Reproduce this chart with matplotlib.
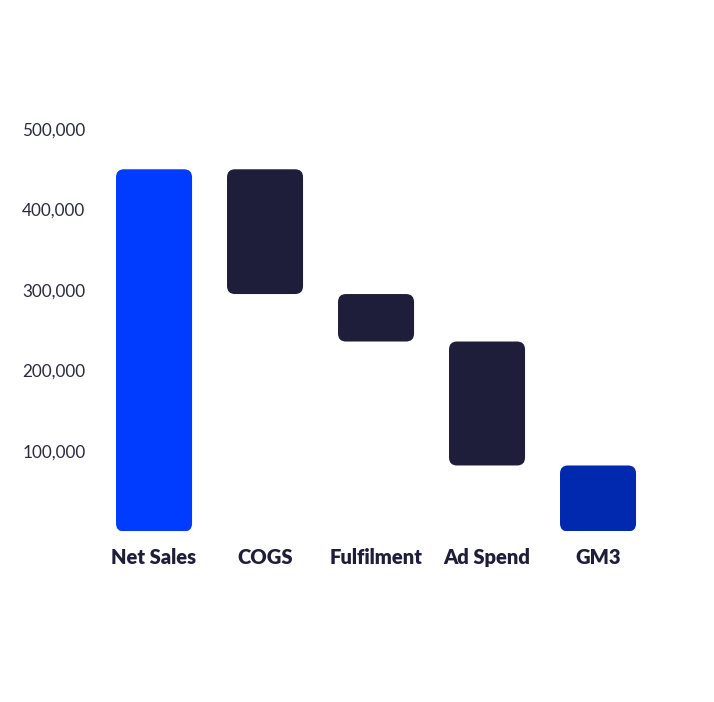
import matplotlib
matplotlib.use("Agg")
import matplotlib.pyplot as plt
from matplotlib.patches import FancyBboxPatch
from matplotlib.ticker import FuncFormatter

OUTPUT_FILE = "out.png"

# waterfall steps (GM3 is the total left over)
categories = ["Net Sales", "COGS", "Fulfilment", "Ad Spend", "GM3"]
changes = [450000, -155000, -59000, -154000, 82000]
kinds = ["start", "cost", "cost", "cost", "total"]
y_ticks = [100000, 200000, 300000, 400000, 500000]

colors = {"start": "#003cff", "cost": "#1e1e3a", "total": "#0029b0"}
text_color = "#2b2b40"


def generate_chart():
    plt.rcParams["font.family"] = ["Lato", "DejaVu Sans"]
    fig = plt.figure(figsize=(7.14, 7.02), dpi=100)
    ax = fig.add_axes([0.138, 0.2429, 0.7773, 0.5733])

    ax.set_xlim(-0.5, len(categories) - 0.5)
    ax.set_ylim(0, 500000)

    # figure out data-per-pixel so the corners come out round
    fig.canvas.draw()
    bbox = ax.get_window_extent()
    x_per_px = (len(categories)) / bbox.width
    y_per_px = 500000 / bbox.height
    radius_px = 8
    width = 0.685

    running = 0
    for i, (cat, ch, kind) in enumerate(zip(categories, changes, kinds)):
        if kind == "start":
            lo, hi = 0, ch
            running = ch
        elif kind == "cost":
            hi = running
            lo = running + ch
            running = lo
        else:
            lo, hi = 0, ch
        patch = FancyBboxPatch(
            (i - width / 2, lo), width, hi - lo,
            boxstyle=f"round,pad=0,rounding_size={radius_px * x_per_px}",
            mutation_aspect=y_per_px / x_per_px,
            facecolor=colors[kind], edgecolor="none",
        )
        ax.add_patch(patch)

    ax.set_xticks(range(len(categories)))
    ax.set_xticklabels(categories, fontsize=14.5, fontweight="heavy", color="#1e1e3a")
    ax.set_yticks(y_ticks)
    ax.yaxis.set_major_formatter(FuncFormatter(lambda v, p: f"{int(v):,}"))
    for lab in ax.get_yticklabels():
        lab.set_horizontalalignment("left")
    ax.tick_params(axis="y", length=0, pad=55, labelsize=12.3, labelcolor=text_color)
    ax.tick_params(axis="x", length=0, pad=12)

    for s in ax.spines.values():
        s.set_visible(False)

    fig.savefig(OUTPUT_FILE, dpi=100, facecolor="white")
    plt.close(fig)


if __name__ == "__main__":
    generate_chart()
